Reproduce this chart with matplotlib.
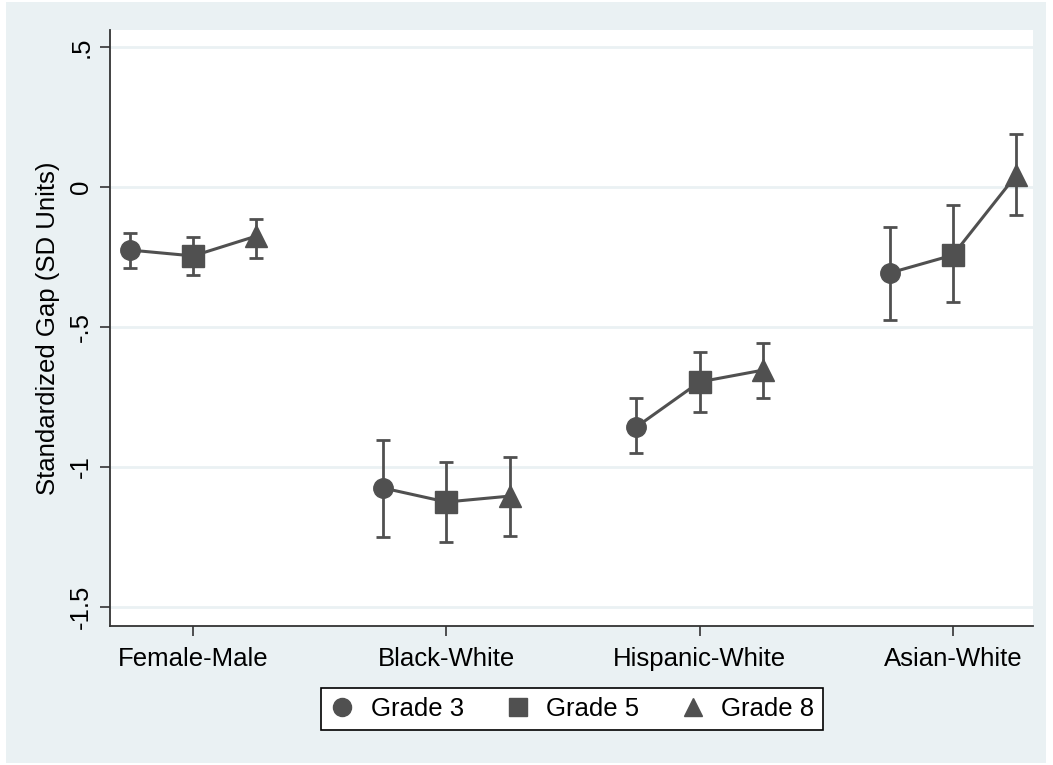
import matplotlib
matplotlib.use('Agg')
import matplotlib.pyplot as plt
from matplotlib.lines import Line2D
from matplotlib.patches import Rectangle

# datos
categorias = ['Female-Male', 'Black-White', 'Hispanic-White', 'Asian-White']
grados = ['Grade 3', 'Grade 5', 'Grade 8']
marcadores = ['o', 's', '^']

grade3 = [-0.225, -1.075, -0.857, -0.307]
grade3_lo = [-0.289, -1.250, -0.950, -0.475]
grade3_hi = [-0.164, -0.904, -0.754, -0.143]

grade5 = [-0.246, -1.125, -0.696, -0.243]
grade5_lo = [-0.314, -1.268, -0.804, -0.411]
grade5_hi = [-0.179, -0.982, -0.589, -0.064]

grade8 = [-0.175, -1.104, -0.654, 0.043]
grade8_lo = [-0.254, -1.246, -0.754, -0.100]
grade8_hi = [-0.114, -0.964, -0.557, 0.189]

yticks = [0.5, 0, -0.5, -1, -1.5]
ytick_labels = ['.5', '0', '-.5', '-1', '-1.5']

medias = [grade3, grade5, grade8]
bajos = [grade3_lo, grade5_lo, grade8_lo]
altos = [grade3_hi, grade5_hi, grade8_hi]
desplaz = [-0.25, 0, 0.25]

plt.rcParams['font.family'] = ['Liberation Sans', 'DejaVu Sans']
gris = '#505050'
fondo = '#eaf1f3'
fs = 18.5

fig = plt.figure(figsize=(10.53, 7.65), dpi=100)
fig.patch.set_facecolor('white')
fig.patches.append(Rectangle((6/1053, 2/765), 1040/1053, 761/765,
                             transform=fig.transFigure, facecolor=fondo,
                             edgecolor='none', zorder=-5))

ax = fig.add_axes([110/1053, 1 - 626/765, 923/1053, 596/765])
ax.set_zorder(1)
ax.set_facecolor('white')

# lineas que unen los grados dentro de cada categoria
for i in range(len(categorias)):
    xs = [i + 1 + d for d in desplaz]
    ys = [m[i] for m in medias]
    ax.plot(xs, ys, color=gris, lw=2.2, zorder=2)

for g in range(3):
    xs = [i + 1 + desplaz[g] for i in range(len(categorias))]
    err_lo = [medias[g][i] - bajos[g][i] for i in range(len(categorias))]
    err_hi = [altos[g][i] - medias[g][i] for i in range(len(categorias))]
    ax.errorbar(xs, medias[g], yerr=[err_lo, err_hi], fmt='none',
                ecolor=gris, elinewidth=2, capsize=4.8, capthick=2, zorder=3)
    ms = 14 if marcadores[g] == 'o' else (16 if marcadores[g] == 's' else 16)
    ax.plot(xs, medias[g], linestyle='none', marker=marcadores[g],
            markersize=ms, color=gris, markeredgecolor=gris, zorder=4)

ax.set_xlim(0.672, 4.316)
ax.set_ylim(-1.568, 0.561)
ax.set_yticks(yticks)
ax.set_yticklabels(ytick_labels, rotation=90, va='center')
ax.set_xticks(range(1, 5))
ax.set_xticklabels(categorias)
ax.grid(axis='y', color=fondo, lw=2)
ax.set_axisbelow(True)

for s in ['top', 'right']:
    ax.spines[s].set_visible(False)
for s in ['left', 'bottom']:
    ax.spines[s].set_color('#333333')
    ax.spines[s].set_linewidth(1.3)

ax.tick_params(axis='y', length=7, width=1.2, color='#333333',
               labelsize=fs, pad=5)
ax.tick_params(axis='x', length=7, width=1.2, color='#333333',
               labelsize=fs, pad=8)
ax.set_ylabel('Standardized Gap (SD Units)', fontsize=fs, labelpad=7)

handles = [Line2D([], [], linestyle='none', marker=m, color=gris,
                  markersize=13) for m in marcadores]
leg = fig.legend(handles, grados, loc='center', ncol=3,
                 bbox_to_anchor=(572/1053, 1 - 709/765), fontsize=fs,
                 frameon=True, fancybox=False, edgecolor='black',
                 facecolor='white', framealpha=1,
                 handlelength=1.0, handletextpad=0.6, columnspacing=1.6,
                 borderpad=0.35)
leg.get_frame().set_linewidth(1.2)

fig.savefig('out.png', dpi=100, facecolor=fig.get_facecolor())
